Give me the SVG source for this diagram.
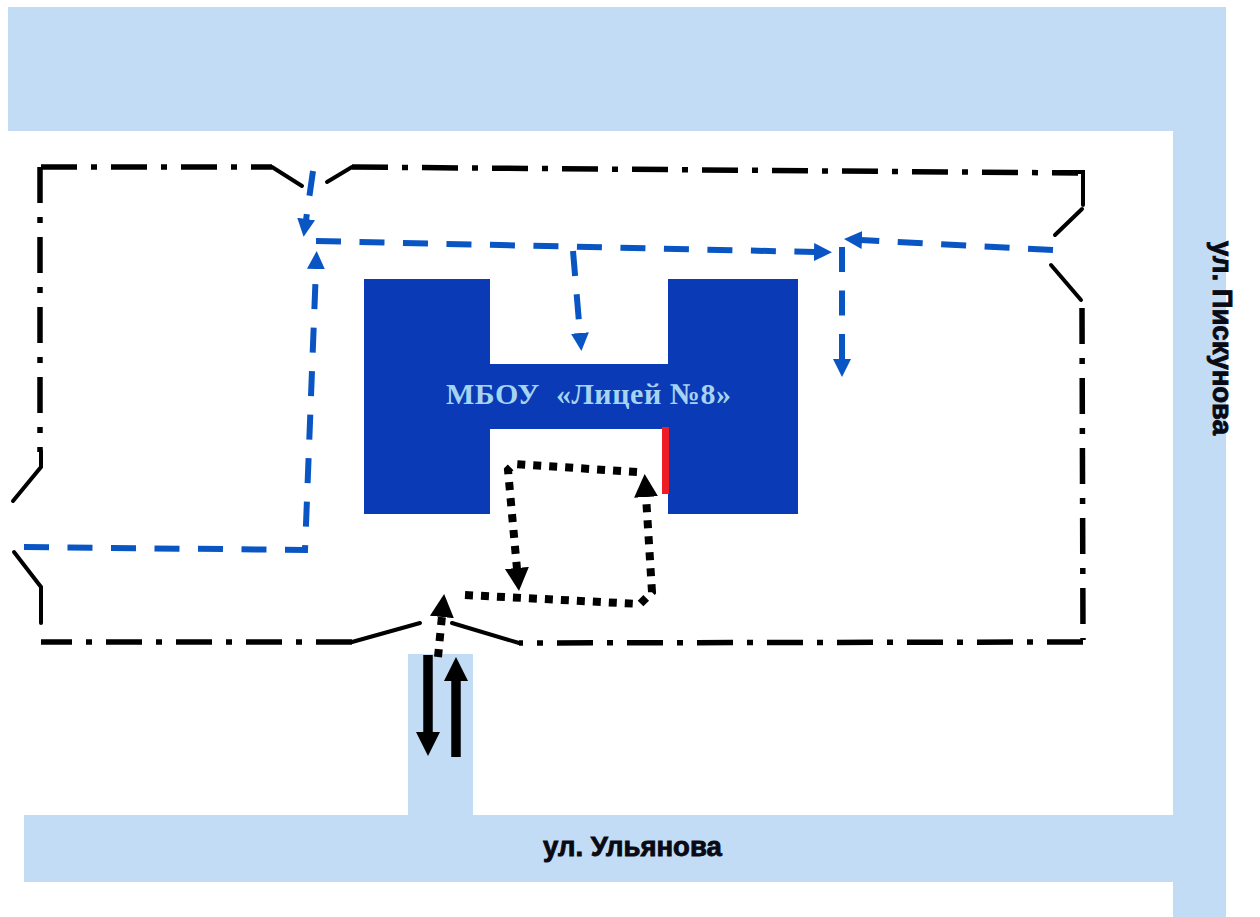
<svg xmlns="http://www.w3.org/2000/svg" width="1260" height="917" viewBox="0 0 1260 917">
<style>
.road{fill:#c3dcf5}
.bld{fill:#0a3ab5}
.solid{fill:none;stroke:#000;stroke-width:4;stroke-linecap:round;stroke-linejoin:miter}
.dd{fill:none;stroke:#000;stroke-width:5.5;stroke-dasharray:36 14 6 14;stroke-linecap:butt}
.blue{fill:none;stroke:#0a55c4;stroke-width:6;stroke-dasharray:25 18.5}
.dot{fill:none;stroke:#000;stroke-width:8;stroke-dasharray:8 8}
.black{fill:none;stroke:#000;stroke-width:9.5}
.st{font-family:"Liberation Sans",Arial,sans-serif;font-weight:700;font-size:27.5px;fill:#0a0a14;stroke:#0a0a14;stroke-width:.9}
.title{font-family:"Liberation Serif","Times New Roman",serif;font-weight:700;font-size:30px;letter-spacing:.55px;fill:#a5d3f2;white-space:pre}
</style>
<defs>
<marker id="ab" markerUnits="userSpaceOnUse" markerWidth="20" markerHeight="22" refX="1" refY="11" orient="auto"><path d="M0 2L18 11L0 20Z" fill="#0a55c4"/></marker>
<marker id="ak" markerUnits="userSpaceOnUse" markerWidth="26" markerHeight="28" refX="1" refY="13" orient="auto"><path d="M0 1L23 13L0 25Z" fill="#000"/></marker>
<marker id="as" markerUnits="userSpaceOnUse" markerWidth="26" markerHeight="28" refX="1" refY="13" orient="auto"><path d="M0 1L24 13L0 25Z" fill="#000"/></marker>
</defs>
<rect width="1260" height="917" fill="#fff"/>
<g id="roads">
<path class="road" d="M8 7H1226V917H1173V131H8Z"/>
<rect class="road" x="24" y="815" width="1149" height="67"/>
<rect class="road" x="408" y="654" width="65" height="161"/>
</g>
<g id="building">
<path class="bld" d="M364 279H490V364H668V279H798V514H668V429H490V514H364Z"/>
<rect x="662" y="427" width="7" height="67" fill="#ee1c25"/>
<text class="title" x="446" y="404">МБОУ  «Лицей №8»</text>
</g>
<g id="street-labels">
<text class="st" x="543" y="856">ул. Ульянова</text>
<text class="st" transform="translate(1213 241) rotate(90)">ул. Пискунова</text>
</g>
<g id="connectors">
<g id="boundary">
<path class="dd" d="M41 167H272"/>
<path class="dd" d="M352 167L1078 173"/>
<path class="dd" d="M1082 308L1083 640"/>
<path class="dd" d="M1083 642L519 643"/>
<path class="dd" d="M352 642H41"/>
<path class="dd" d="M40 167V452"/>
<path class="solid" d="M272 167L302 186"/>
<path class="solid" d="M327 182L352 167"/>
<path class="solid" stroke-linecap="butt" stroke-width="5" d="M1060 172H1083V205"/>
<path class="solid" d="M1082 209L1055 235"/>
<path class="solid" d="M1051 265L1081 300"/>
<path class="solid" d="M519 643L452 623"/>
<path class="solid" d="M420 623L352 642"/>
<path class="solid" d="M41 451V467L13 501"/>
<path class="solid" d="M14 552L41 587V623"/>
</g>
<g id="blue-routes">
<path class="blue" d="M24 547L305 550L316 268" marker-end="url(#ab)"/>
<path class="blue" d="M316 241L815 252" marker-end="url(#ab)"/>
<path class="blue" d="M1053 250L861 240" marker-end="url(#ab)"/>
<path class="blue" d="M842 247V360" marker-end="url(#ab)"/>
<path class="blue" d="M573 251L580 334" marker-end="url(#ab)"/>
<path class="blue" d="M313 171L306 220" marker-end="url(#ab)"/>
</g>
<g id="black-routes">
<path class="dot" d="M438 657L442 616" marker-end="url(#ak)"/>
<path class="dot" d="M465 595L640 604L652 592L646 496" marker-end="url(#ak)"/>
<path class="dot" d="M637 472L514 464L508 470L517 569" marker-end="url(#ak)"/>
<path class="black" d="M428 655V733" marker-end="url(#as)"/>
<path class="black" d="M456 757V680" marker-end="url(#as)"/>
</g>
</g>
</svg>
